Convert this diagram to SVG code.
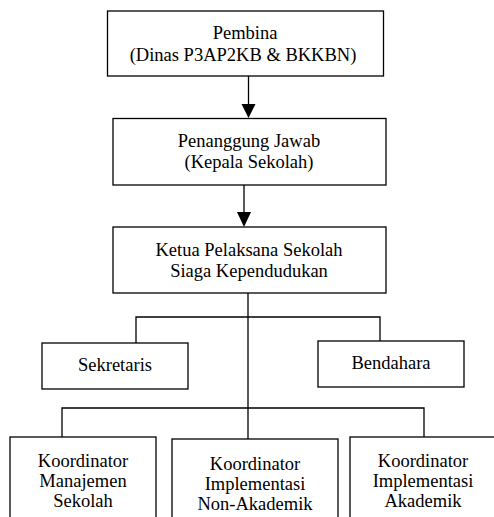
<svg xmlns="http://www.w3.org/2000/svg" width="494" height="517" viewBox="0 0 494 517">
<style>
.box{fill:#fff;stroke:#000;stroke-width:1.3}
.ln{fill:none;stroke:#000;stroke-width:1.3}
.t{font-family:'Liberation Serif','DejaVu Serif','Times New Roman',serif;font-size:18.5px;fill:#000;text-anchor:middle}
</style>
<g id="connectors">
<path class="ln" d="M248.5,76 V104"/>
<path d="M241.5,104 L255.5,104 L248.5,118 Z" fill="#000"/>
<path class="ln" d="M244,185 V212"/>
<path d="M237,212 L251,212 L244,227 Z" fill="#000"/>
<path class="ln" d="M248,293 V408"/>
<path class="ln" d="M136,343 V317 H380 V341"/>
<path class="ln" d="M62,437 V408 H424 V437"/>
<path class="ln" d="M248,408 V439"/>
</g>
<g id="pembina">
<rect class="box" x="107.5" y="11" width="276" height="65"/>
<text class="t" x="245" y="39" font-family="Liberation Serif, serif">Pembina</text>
<text class="t" x="243" y="61" font-family="Liberation Serif, serif">(Dinas P3AP2KB &amp; BKKBN)</text>
</g>
<g id="penanggung">
<rect class="box" x="113" y="118.5" width="273" height="66.5"/>
<text class="t" x="249" y="147" font-family="Liberation Serif, serif">Penanggung Jawab</text>
<text class="t" x="249" y="168" font-family="Liberation Serif, serif">(Kepala Sekolah)</text>
</g>
<g id="ketua">
<rect class="box" x="113" y="227" width="273" height="66"/>
<text class="t" x="249" y="256" font-family="Liberation Serif, serif">Ketua Pelaksana Sekolah</text>
<text class="t" x="249" y="277" font-family="Liberation Serif, serif">Siaga Kependudukan</text>
</g>
<g id="sekretaris">
<rect class="box" x="42" y="343" width="146" height="46"/>
<text class="t" x="115" y="371" font-family="Liberation Serif, serif">Sekretaris</text>
</g>
<g id="bendahara">
<rect class="box" x="318" y="341" width="146" height="46"/>
<text class="t" x="391" y="369" font-family="Liberation Serif, serif">Bendahara</text>
</g>
<g id="koord-manajemen">
<rect class="box" x="10" y="437" width="146" height="95"/>
<text class="t" x="83" y="467" font-family="Liberation Serif, serif">Koordinator</text>
<text class="t" x="83" y="487" font-family="Liberation Serif, serif">Manajemen</text>
<text class="t" x="83" y="507" font-family="Liberation Serif, serif">Sekolah</text>
</g>
<g id="koord-nonakademik">
<rect class="box" x="172" y="439" width="166" height="95"/>
<text class="t" x="255" y="470" font-family="Liberation Serif, serif">Koordinator</text>
<text class="t" x="255" y="490" font-family="Liberation Serif, serif">Implementasi</text>
<text class="t" x="255" y="510" font-family="Liberation Serif, serif">Non-Akademik</text>
</g>
<g id="koord-akademik">
<rect class="box" x="350" y="437" width="150" height="95"/>
<text class="t" x="423" y="467" font-family="Liberation Serif, serif">Koordinator</text>
<text class="t" x="423" y="487" font-family="Liberation Serif, serif">Implementasi</text>
<text class="t" x="423" y="507" font-family="Liberation Serif, serif">Akademik</text>
</g>
</svg>
